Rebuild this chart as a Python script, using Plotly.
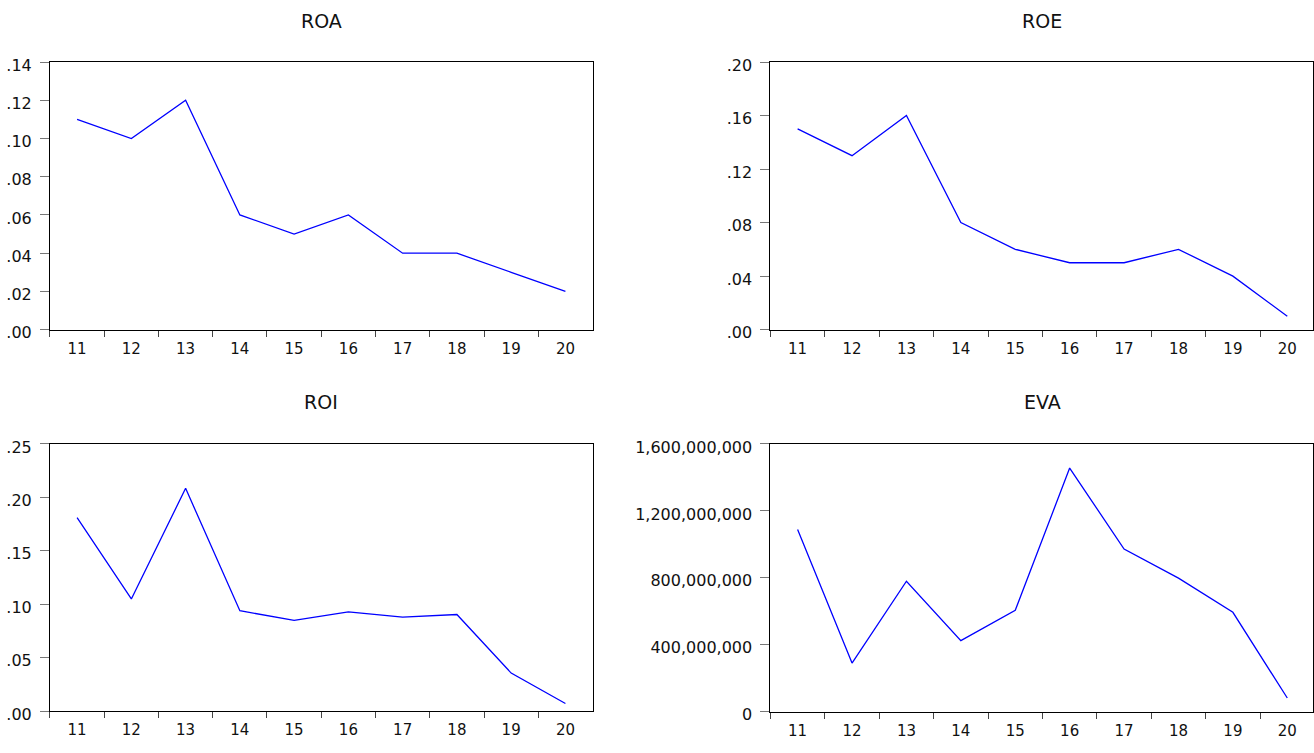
import plotly.graph_objects as go

W, H = 1314, 753

years = ["11", "12", "13", "14", "15", "16", "17", "18", "19", "20"]

roa = [0.11, 0.10, 0.12, 0.06, 0.05, 0.06, 0.04, 0.04, 0.03, 0.02]
roe = [0.15, 0.13, 0.16, 0.08, 0.06, 0.05, 0.05, 0.06, 0.04, 0.01]
roi = [0.181, 0.105, 0.2085, 0.094, 0.085, 0.093, 0.088, 0.0905, 0.0357, 0.0073]
eva = [1.089e9, 2.91e8, 7.80e8, 4.25e8, 6.06e8, 1.456e9, 9.72e8, 7.98e8, 5.94e8, 8.2e7]

roa_ticks = [0.00, 0.02, 0.04, 0.06, 0.08, 0.10, 0.12, 0.14]
roa_text = [".00", ".02", ".04", ".06", ".08", ".10", ".12", ".14"]
roe_ticks = [0.00, 0.04, 0.08, 0.12, 0.16, 0.20]
roe_text = [".00", ".04", ".08", ".12", ".16", ".20"]
roi_ticks = [0.00, 0.05, 0.10, 0.15, 0.20, 0.25]
roi_text = [".00", ".05", ".10", ".15", ".20", ".25"]
eva_ticks = [0, 4e8, 8e8, 1.2e9, 1.6e9]
eva_text = ["0", "400,000,000", "800,000,000", "1,200,000,000", "1,600,000,000"]

titles = ["ROA", "ROE", "ROI", "EVA"]

FONT = "DejaVu Sans"

# pixel boxes: (left, right, top, bottom)
boxes = [
    (50, 593, 57.5, 332),
    (771, 1314, 57.5, 332),
    (50, 593, 449.3, 723.5),
    (771, 1314, 449.3, 724),
]
xmax = [9.5, 9.5 - (1315.5 - 1314) / 54.4, 9.5, 9.5 - (1315.5 - 1314) / 54.4]

series = [roa, roe, roi, eva]
yt = [(roa_ticks, roa_text), (roe_ticks, roe_text), (roi_ticks, roi_text), (eva_ticks, eva_text)]

fig = go.Figure()
annotations = []
for i, (data, (tv, tt), box, title) in enumerate(zip(series, yt, boxes, titles)):
    n = "" if i == 0 else str(i + 1)
    fig.add_trace(go.Scatter(
        x=years, y=data, mode="lines",
        line=dict(color="#0000FF", width=1.3),
        xaxis="x" + n, yaxis="y" + n, showlegend=False, hoverinfo="x+y",
    ))
    l, r, t, b = box
    xd = [l / W, min(r / W, 1.0)]
    yd = [1 - b / H, 1 - t / H]
    fig.layout["xaxis" + n] = dict(
        domain=xd, anchor="y" + n, type="category",
        range=[-0.5, xmax[i]], tickson="boundaries",
        ticks="outside", ticklen=6, tickwidth=1, tickcolor="#444",
        showline=True, linecolor="black", linewidth=1, mirror=True,
        showgrid=False, zeroline=False,
        tickfont=dict(family=FONT, size=15, color="#111"),
        ticklabelstandoff=5,
    )
    fig.layout["yaxis" + n] = dict(
        domain=yd, anchor="x" + n,
        range=[tv[0], tv[-1]], tickvals=tv, ticktext=tt,
        ticks="outside", ticklen=9, tickwidth=1, tickcolor="#777",
        showline=True, linecolor="black", linewidth=1, mirror=True,
        showgrid=False, zeroline=False,
        tickfont=dict(family=FONT, size=16, color="#111"),
        ticklabelstandoff=5, ticklabelshift=3,
    )
    cx = (l + (1315.5 if r == 1314 else r)) / 2
    cy = 15.5 if i < 2 else 406
    annotations.append(dict(
        text=title, x=cx / W, y=1 - cy / H, xref="paper", yref="paper",
        xanchor="center", yanchor="middle", showarrow=False,
        font=dict(family=FONT, size=19, color="#111"),
    ))

fig.update_layout(
    width=W, height=H,
    margin=dict(l=0, r=0, t=0, b=0),
    paper_bgcolor="white", plot_bgcolor="white",
    annotations=annotations,
)

post = (
    "var gd=document.getElementById('{plot_id}');"
    "var de=document.documentElement, bd=document.body;"
    "de.style.margin='0';de.style.padding='0';de.style.overflow='hidden';"
    "bd.style.margin='0';bd.style.padding='0';bd.style.overflow='hidden';"
    "var p=gd.parentElement;p.style.position='relative';p.style.width='1314px';"
    "p.style.height='753px';p.style.overflow='hidden';p.style.margin='0';"
    "gd.style.position='absolute';gd.style.left='0px';gd.style.top='0px';"
)

fig.write_html("out.html", config={"displayModeBar": False}, post_script=post)
